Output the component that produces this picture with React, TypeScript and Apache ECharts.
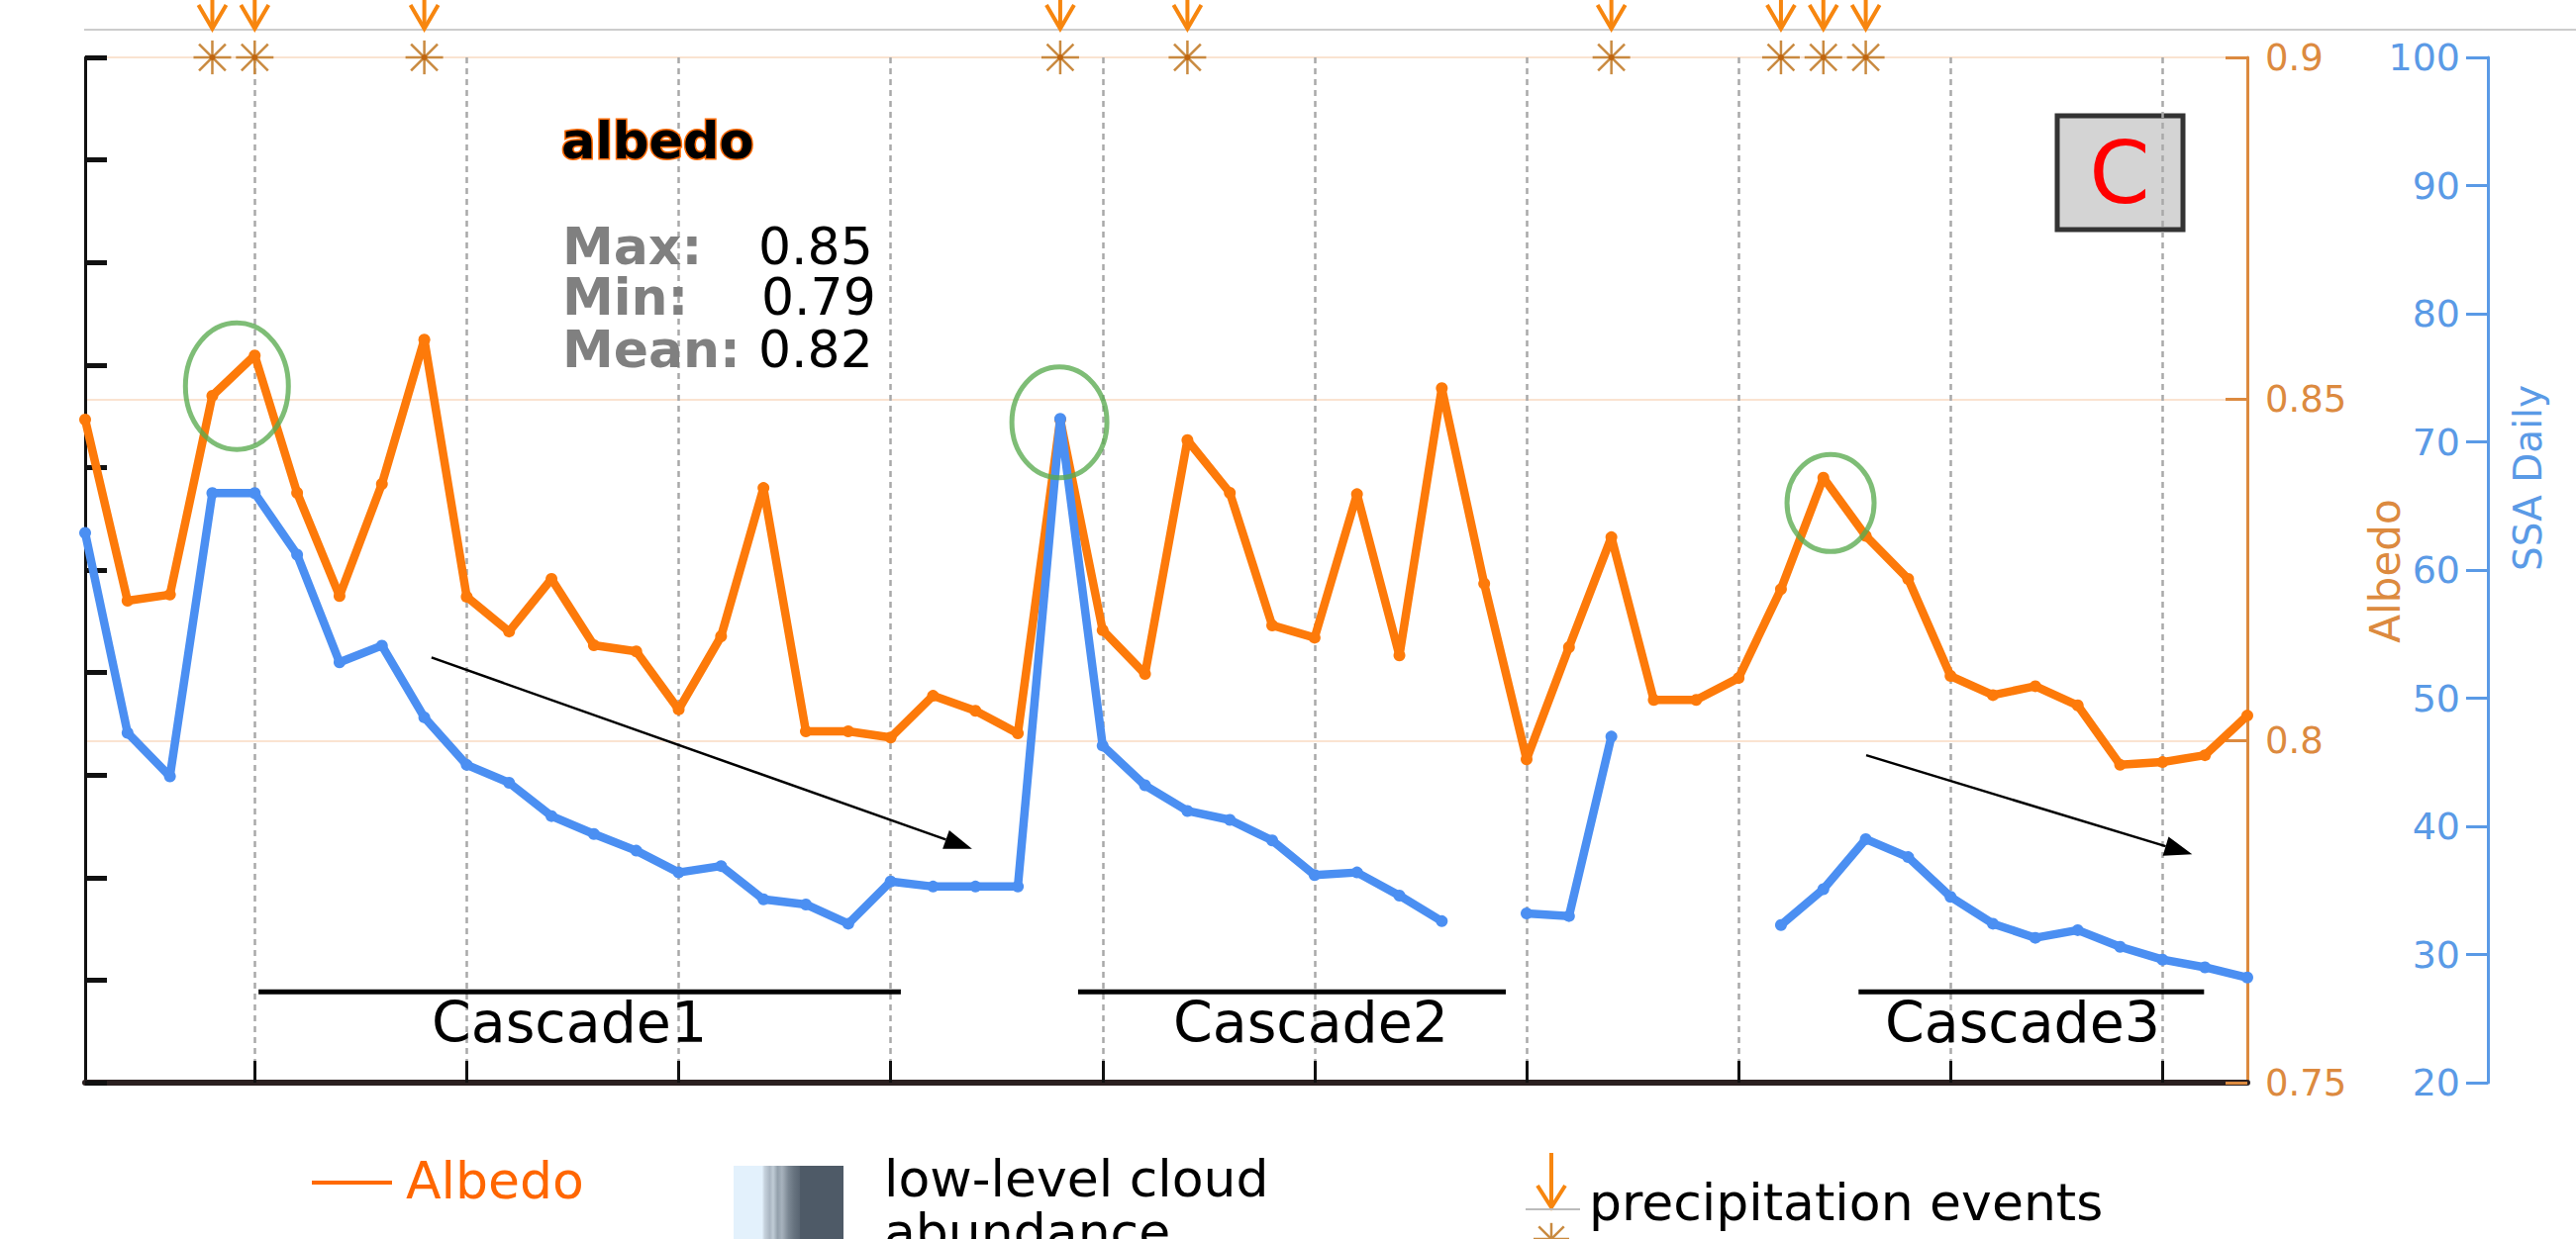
import React, { useEffect, useRef } from "react";
import * as echarts from "echarts";

// ---- data ----
const days: string[] = Array.from({ length: 52 }, (_, i) => String(i + 1));
const albedo: number[] = [
  0.847, 0.8205, 0.8214, 0.8505, 0.8564, 0.8363, 0.8212, 0.8376, 0.8587, 0.8211,
  0.816, 0.8237, 0.814, 0.8131, 0.8046, 0.8153, 0.837, 0.8014, 0.8014, 0.8005,
  0.8066, 0.8044, 0.8011, 0.847, 0.8162, 0.8098, 0.844, 0.8363, 0.8169, 0.8151,
  0.8361, 0.8125, 0.8516, 0.823, 0.7973, 0.8137, 0.8298, 0.806, 0.806, 0.8092,
  0.8222, 0.8385, 0.83, 0.8237, 0.8095, 0.8067, 0.808, 0.8052, 0.7965, 0.7969,
  0.7979, 0.8037,
];
const ssaDaily: (number | null)[] = [
  62.9, 47.3, 43.9, 66.0, 66.0, 61.2, 52.8, 54.1, 48.5, 44.8,
  43.4, 40.8, 39.4, 38.1, 36.4, 36.9, 34.3, 33.9, 32.4, 35.7,
  35.3, 35.3, 35.3, 71.8, 46.3, 43.2, 41.2, 40.5, 38.9, 36.2,
  36.4, 34.6, 32.6, null, 33.2, 33.0, 47.0, null, null, null,
  32.3, 35.1, 39.0, 37.6, 34.5, 32.4, 31.3, 31.9, 30.6, 29.6,
  29.0, 28.2,
];
const precipDays: number[] = [3, 4, 8, 23, 26, 36, 40, 41, 42];
const albedoTicks = { min: 0.75, max: 0.9, step: 0.05 };
const ssaTicks = { min: 20, max: 100, step: 10 };
const stats = [
  { label: "Max:", value: "0.85" },
  { label: "Min:", value: "0.79" },
  { label: "Mean:", value: "0.82" },
];
const cascadeNames = ["Cascade1", "Cascade2", "Cascade3"];

// annotations (in data coordinates: fractional category index, albedo value)
const highlightEllipses = [
  { i: 3.58, v: 0.8519, rx: 52, ry: 64 },
  { i: 22.98, v: 0.8466, rx: 48, ry: 56 },
  { i: 41.17, v: 0.8348, rx: 44, ry: 49 },
];
const trendArrows = [
  { from: [8.17, 0.8122], to: [20.92, 0.7842] },
  { from: [42.01, 0.7979], to: [49.7, 0.7834] },
];
const cascadeSpans = [
  { from: 4.09, to: 19.24, label: 11.42 },
  { from: 23.42, to: 33.51, label: 28.91 },
  { from: 41.83, to: 49.98, label: 45.7 },
];
const cascadeLineLevel = 0.7633;
const cascadeLabelLevel = 0.7588;

const FONT = '"DejaVu Sans", Verdana, sans-serif';
const ORANGE = "#fd7a0a";
const BLUE = "#4b8ff2";
const AX_ORANGE = "#dc8a3f";
const AX_BLUE = "#5a9ae6";
const tickEvery = (idx: number) => idx % 5 === 4;

function txt(x: number, y: number, text: string, font: string, fill: string, align = "left", extra: any = {}) {
  return {
    type: "text",
    x,
    y,
    z: 50,
    ...extra,
    style: {
      text,
      font,
      fill,
      align,
      textAlign: align,
      verticalAlign: "middle",
      textVerticalAlign: "middle",
      ...(extra.style || {}),
    },
  };
}

function asteriskLines(x: number, y: number, r: number, color: string) {
  const d = r * 0.7071;
  const seg = (x1: number, y1: number, x2: number, y2: number) => ({
    type: "line",
    shape: { x1, y1, x2, y2 },
    style: { stroke: color, lineWidth: 2.5 },
  });
  return [
    seg(x - r, y, x + r, y),
    seg(x, y - r * 0.9, x, y + r * 0.9),
    seg(x - d, y - d, x + d, y + d),
    seg(x - d, y + d, x + d, y - d),
  ];
}

export default function App() {
  const ref = useRef<HTMLDivElement>(null);

  useEffect(() => {
    if (!ref.current) return;
    const chart = echarts.init(ref.current, null, { renderer: "svg" });

    const option: any = {
      animation: false,
      backgroundColor: "#ffffff",
      textStyle: { fontFamily: FONT },
      grid: { left: 86, right: 332, top: 58, bottom: 158, containLabel: false },
      xAxis: {
        type: "category",
        data: days,
        boundaryGap: false,
        axisLabel: { show: false },
        axisLine: { show: true, lineStyle: { color: "#2b2020", width: 6 } },
        axisTick: {
          show: true,
          inside: true,
          length: 22,
          interval: tickEvery,
          lineStyle: { color: "#111", width: 3 },
        },
        splitLine: {
          show: true,
          interval: tickEvery,
          lineStyle: { color: "#a9a9a9", width: 2.5, type: [6, 5] },
        },
      },
      yAxis: [
        {
          type: "value",
          position: "left",
          min: 0,
          max: 10,
          interval: 1,
          axisLabel: { show: false },
          axisLine: { show: true, lineStyle: { color: "#111", width: 3 } },
          axisTick: { show: true, inside: true, length: 22, lineStyle: { color: "#111", width: 5 } },
          splitLine: { show: false },
        },
        {
          type: "value",
          position: "right",
          offset: 0,
          min: albedoTicks.min,
          max: albedoTicks.max,
          interval: albedoTicks.step,
          axisLine: { show: true, lineStyle: { color: AX_ORANGE, width: 3 } },
          axisTick: { show: true, inside: true, length: 22, lineStyle: { color: AX_ORANGE, width: 3 } },
          axisLabel: {
            color: AX_ORANGE,
            fontSize: 37,
            fontFamily: FONT,
            margin: 18,
            formatter: (v: number) => String(+v.toFixed(2)),
          },
          splitLine: { show: true, lineStyle: { color: "#fae3d1", width: 2 } },
        },
        {
          type: "value",
          position: "right",
          offset: 243,
          min: ssaTicks.min,
          max: ssaTicks.max,
          interval: ssaTicks.step,
          axisLine: { show: true, lineStyle: { color: AX_BLUE, width: 3 } },
          axisTick: { show: true, inside: true, length: 22, lineStyle: { color: AX_BLUE, width: 3 } },
          axisLabel: { inside: true, color: AX_BLUE, fontSize: 38, fontFamily: FONT, margin: 28 },
          splitLine: { show: false },
        },
      ],
      series: [
        {
          name: "Albedo",
          type: "line",
          yAxisIndex: 1,
          data: albedo,
          symbol: "circle",
          symbolSize: 12,
          showSymbol: true,
          lineStyle: { color: ORANGE, width: 8.5 },
          itemStyle: { color: ORANGE },
          z: 3,
        },
        {
          name: "SSA Daily",
          type: "line",
          yAxisIndex: 2,
          data: ssaDaily,
          connectNulls: false,
          symbol: "circle",
          symbolSize: 12,
          showSymbol: true,
          lineStyle: { color: BLUE, width: 8.5 },
          itemStyle: { color: BLUE },
          z: 4,
        },
        {
          name: "precipitation events",
          type: "custom",
          yAxisIndex: 1,
          clip: false,
          z: 10,
          data: precipDays.map((d) => [d, albedoTicks.max]),
          renderItem: (params: any, api: any) => {
            const p = api.coord([api.value(0), api.value(1)]);
            const x = p[0];
            const y = p[1];
            return {
              type: "group",
              children: [
                ...asteriskLines(x, y, 19, "#c98a40"),
                { type: "circle", shape: { cx: x, cy: y, r: 3 }, style: { fill: "#c0650e" } },
                {
                  type: "line",
                  shape: { x1: x, y1: y - 75, x2: x, y2: y - 29 },
                  style: { stroke: "#f7860f", lineWidth: 4 },
                },
                {
                  type: "polyline",
                  shape: { points: [[x - 14, y - 53], [x, y - 29], [x + 14, y - 53]] },
                  style: { stroke: "#f7860f", lineWidth: 4, fill: "none" },
                },
              ],
            };
          },
        },
      ],
    };

    chart.setOption(option);

    // fractional category positions: interpolate between first and last category
    const first = chart.convertToPixel({ xAxisIndex: 0, yAxisIndex: 1 } as any, [0, albedoTicks.max]) as number[];
    const last = chart.convertToPixel(
      { xAxisIndex: 0, yAxisIndex: 1 } as any,
      [days.length - 1, albedoTicks.min]
    ) as number[];
    const px = (i: number, v: number) => {
      const x = first[0] + ((last[0] - first[0]) * i) / (days.length - 1);
      const y = first[1] + ((last[1] - first[1]) * (albedoTicks.max - v)) / (albedoTicks.max - albedoTicks.min);
      return [x, y];
    };

    const g: any[] = [];

    // top thin gray line
    g.push({
      type: "line",
      shape: { x1: 85, y1: 30, x2: 2602, y2: 30 },
      style: { stroke: "#cccccc", lineWidth: 2 },
    });

    // panel label box
    g.push({
      type: "rect",
      z: -1,
      shape: { x: 2078, y: 117, width: 127, height: 115 },
      style: { fill: "#d4d4d4", stroke: "#333333", lineWidth: 5 },
    });
    g.push(txt(2141, 174, "C", `88px ${FONT}`, "#ff0000", "center"));

    // title & stats
    g.push(
      txt(567, 142, "albedo", `bold 51px ${FONT}`, "#000000", "left", {
        style: { stroke: "#ff6a00", lineWidth: 3 },
      })
    );
    const statY = [249, 300, 353];
    const valX = [766, 769, 766];
    stats.forEach((s, k) => {
      g.push(txt(568, statY[k], s.label, `bold 52px ${FONT}`, "#808080"));
      g.push(txt(valX[k], statY[k], s.value, `52px ${FONT}`, "#000000"));
    });

    // highlight ellipses
    highlightEllipses.forEach((e) => {
      const [cx, cy] = px(e.i, e.v);
      g.push({
        type: "ellipse",
        z: 20,
        shape: { cx, cy, rx: e.rx, ry: e.ry },
        style: { fill: "none", stroke: "rgba(90,170,80,0.78)", lineWidth: 5 },
      });
    });

    // trend arrows
    trendArrows.forEach((a) => {
      const [x1, y1] = px(a.from[0], a.from[1]);
      const [x2, y2] = px(a.to[0], a.to[1]);
      const ang = Math.atan2(y2 - y1, x2 - x1);
      const L = 28;
      const W = 10;
      const bx = x2 - L * Math.cos(ang);
      const by = y2 - L * Math.sin(ang);
      const nx = -Math.sin(ang);
      const ny = Math.cos(ang);
      g.push({
        type: "line",
        z: 20,
        shape: { x1, y1, x2: bx, y2: by },
        style: { stroke: "#000", lineWidth: 2.5 },
      });
      g.push({
        type: "polygon",
        z: 20,
        shape: { points: [[x2, y2], [bx + nx * W, by + ny * W], [bx - nx * W, by - ny * W]] },
        style: { fill: "#000" },
      });
    });

    // cascades
    cascadeSpans.forEach((c, k) => {
      const [xa, yl] = px(c.from, cascadeLineLevel);
      const [xb] = px(c.to, cascadeLineLevel);
      const [xl, yt] = px(c.label, cascadeLabelLevel);
      g.push({
        type: "line",
        z: 20,
        shape: { x1: xa, y1: yl, x2: xb, y2: yl },
        style: { stroke: "#000", lineWidth: 5 },
      });
      g.push(txt(xl, yt, cascadeNames[k], `57px ${FONT}`, "#000", "center"));
    });

    // axis names
    g.push(
      txt(2409, 577, "Albedo", `42px ${FONT}`, AX_ORANGE, "center", { rotation: Math.PI / 2 })
    );
    g.push(
      txt(2553, 483, "SSA Daily", `39px ${FONT}`, AX_BLUE, "center", { rotation: Math.PI / 2 })
    );

    // legend: Albedo
    g.push({
      type: "line",
      shape: { x1: 315, y1: 1195, x2: 396, y2: 1195 },
      style: { stroke: "#ff6a00", lineWidth: 4 },
    });
    g.push(txt(410, 1193, "Albedo", `52px ${FONT}`, "#ff6600"));

    // legend: low-level cloud abundance
    g.push({
      type: "rect",
      shape: { x: 741, y: 1178, width: 111, height: 80 },
      style: {
        fill: new (echarts as any).graphic.LinearGradient(0, 0, 1, 0, [
          { offset: 0, color: "#e3f1fc" },
          { offset: 0.26, color: "#e3f1fc" },
          { offset: 0.28, color: "#c7d3de" },
          { offset: 0.33, color: "#aab6c2" },
          { offset: 0.36, color: "#c0ccd6" },
          { offset: 0.4, color: "#93a0ac" },
          { offset: 0.44, color: "#a7b2bd" },
          { offset: 0.5, color: "#7b8793" },
          { offset: 0.55, color: "#67737f" },
          { offset: 0.6, color: "#5a6673" },
          { offset: 0.6, color: "#4e5a67" },
          { offset: 1, color: "#4e5a67" },
        ]),
      },
    });
    g.push(txt(893, 1191, "low-level cloud", `52px ${FONT}`, "#000"));
    g.push(txt(893, 1245, "abundance", `52px ${FONT}`, "#000"));

    // legend: precipitation events
    g.push({
      type: "line",
      shape: { x1: 1567, y1: 1165, x2: 1567, y2: 1220 },
      style: { stroke: "#f7860f", lineWidth: 4 },
    });
    g.push({
      type: "polyline",
      shape: { points: [[1553, 1198], [1567, 1220], [1581, 1198]] },
      style: { stroke: "#f7860f", lineWidth: 4, fill: "none" },
    });
    g.push({
      type: "line",
      shape: { x1: 1541, y1: 1222, x2: 1596, y2: 1222 },
      style: { stroke: "#bbbbbb", lineWidth: 2 },
    });
    asteriskLines(1567, 1252, 18, "#c98a40").forEach((l) => g.push(l));
    g.push(txt(1605, 1215, "precipitation events", `52px ${FONT}`, "#000"));

    chart.setOption({ graphic: g });

    return () => chart.dispose();
  }, []);

  return (
    <div
      ref={ref}
      style={{ position: "fixed", left: 0, top: 0, width: 2602, height: 1252, background: "#fff" }}
    />
  );
}
